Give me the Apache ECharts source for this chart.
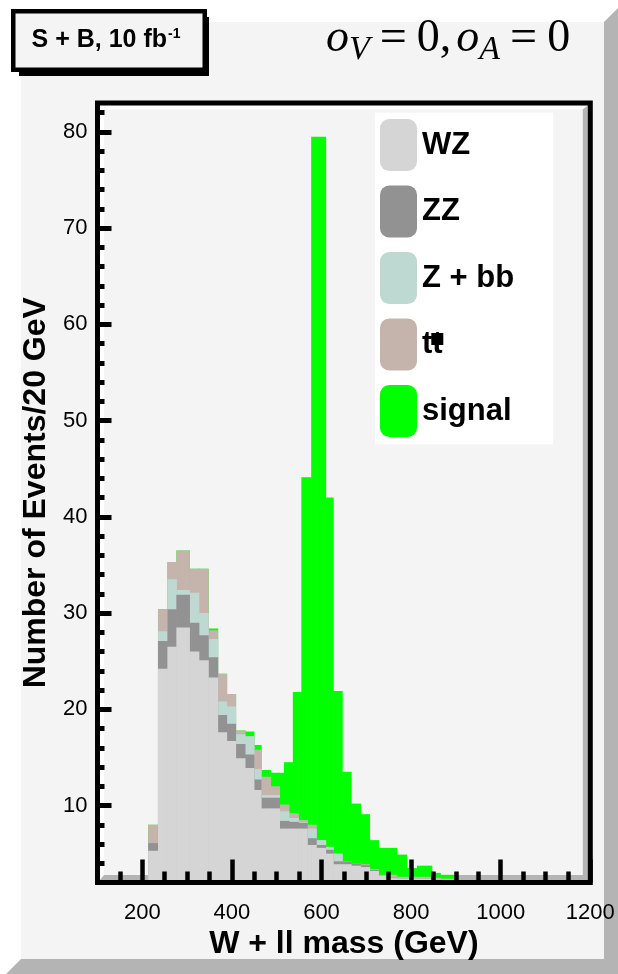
<!DOCTYPE html>
<html><head><meta charset="utf-8">
<script src="https://cdn.jsdelivr.net/npm/echarts@6/dist/echarts.min.js"></script>
<style>html,body{margin:0;padding:0;background:#f4f4f4}#chart{width:618px;height:974px}</style>
</head><body><div id="chart"></div>
<script>
// ---- data ----
const binEdges = [213, 235, 256, 276, 305, 326, 347, 368, 388, 408, 429, 449, 465, 486, 506, 516, 527, 536, 548, 555, 568, 577, 588, 609, 626, 646, 666, 687, 707, 727, 748, 768, 790, 813, 846, 865, 894];
const wzValues = [5.3, 24.2, 26.5, 28.5, 26.0, 25.1, 23.3, 17.6, 16.7, 14.9, 13.9, 11.6, 9.7, 9.7, 7.6, 7.6, 7.6, 7.6, 7.6, 7.6, 5.9, 5.9, 5.6, 5.0, 3.9, 3.9, 3.75, 3.6, 3.2, 2.7, 2.45, 2.4, 2.4, 2.4, 2.3, 2.3];
const zzValues = [0.8, 2.9, 3.9, 3.4, 3.0, 2.6, 2.1, 1.8, 1.8, 1.5, 1.4, 1.1, 1.1, 1.1, 0.8, 0.8, 0.7, 0.7, 0.6, 0.6, 0.7, 0.7, 0.3, 0.4, 0.3, 0.3, 0.25, 0.2, 0.1, 0, 0.05, 0, 0, 0, 0, 0];
const zbbValues = [0, 1.0, 3.1, 0.5, 3.1, 2.3, 1.9, 1.4, 1.8, 1.0, 1.9, 1.1, 0.3, 0.3, 1.0, 1.0, 0.4, 0.4, 0.1, 0.1, 1.0, 1.0, 0.5, 0.3, 0.8, 0, 0, 0, 0, 0, 0, 0, 0, 0, 0, 0];
const ttbarValues = [1.9, 2.3, 1.8, 4.1, 2.5, 4.6, 0.9, 2.9, 1.3, 0.4, 0, 2.0, 1.9, 0.9, 0.7, 0.7, 0.5, 0.5, 0.2, 0.2, 0.4, 0.4, 0, 0, 0, 0, 0, 0.1, 0.1, 0.1, 0.3, 0.2, 0.2, 0.2, 0.2, 0.1];
const signalValues = [0, 0, 0, 0, 0, 0, 0.2, 0, 0, 0, 0.5, 0.5, 0.7, 1.4, 3.3, 4.4, 5.3, 12.6, 13.3, 35.6, 36.1, 71.5, 73.1, 36.3, 16.9, 9.3, 6.2, 5.2, 3.0, 2.8, 2.8, 2.3, 0.9, 1.15, 0.5, 0.4];

const seriesNames = ['WZ', 'ZZ', 'Z + bb', 'tt\u0304', 'signal'];
const xMajorTicks = [200, 400, 600, 800, 1000, 1200];
const xMinorTicks = [150, 250, 300, 350, 450, 500, 550, 650, 700, 750, 850, 900, 950, 1050, 1100, 1150];
const yMajorTicks = [10, 20, 30, 40, 50, 60, 70, 80];
const yMinorTicks = [4, 6, 8, 12, 14, 16, 18, 22, 24, 26, 28, 32, 34, 36, 38, 42, 44, 46, 48, 52, 54, 56, 58, 62, 64, 66, 68, 72, 74, 76, 78, 82];

// ---- layout / style ----
const X_MIN = 100, X_MAX = 1200, Y_MIN = 2, Y_MAX = 83;
const G = { left: 97.5, top: 103, width: 492.8, height: 779.5 };
const FONT = '"Liberation Sans", Arial, Helvetica, sans-serif';
const SERIF = '"Liberation Serif", "Times New Roman", serif';
const colors = ['#d5d5d5', '#929292', '#bed8d2', '#c4b4ab', '#00ff00'];
const LEG = { left: 375, top: 112.7, padT: 6.3, padL: 5, iw: 37, ih: 52, gap: 14.5 };

const valueLists = [wzValues, zzValues, zbbValues, ttbarValues, signalValues];
const cumulative = [];
let running = wzValues.map(() => 0);
valueLists.forEach(vals => {
  running = running.map((r, i) => r + vals[i]);
  cumulative.push(running.slice());
});

function renderItem(params, api) {
  const x0 = api.value(0), x1 = api.value(1), top = api.value(2);
  if (!(top > Y_MIN)) return null;
  const p0 = api.coord([x0, top]);
  const p1 = api.coord([x1, Y_MIN]);
  return {
    type: 'rect',
    shape: { x: p0[0], y: p0[1], width: p1[0] - p0[0] + 0.6, height: p1[1] - p0[1] },
    style: { fill: api.visual('color') }
  };
}

const series = [];
for (let k = seriesNames.length - 1; k >= 0; k--) {
  series.push({
    type: 'custom',
    name: seriesNames[k],
    renderItem: renderItem,
    xAxisIndex: 0, yAxisIndex: 0,
    itemStyle: { color: colors[k] },
    encode: { x: [0, 1], y: 2 },
    data: cumulative[k].map((c, i) => [binEdges[i], binEdges[i + 1], c]),
    silent: true
  });
}

const L = G.left, T = G.top, R = G.left + G.width, B = G.top + G.height;
const fi = { l: L + 2.5, t: T + 2.5, r: R - 2.5, b: B - 2.5 }; // inner edges of frame
const bv = 5;
const legTextX = LEG.left + LEG.padL + LEG.iw + 5;
const ttTop = LEG.top + LEG.padT + 3 * (LEG.ih + LEG.gap);
const plainNumber = v => String(v);

const option = {
  backgroundColor: '#f4f4f4',
  animation: false,
  grid: { left: G.left, top: G.top, width: G.width, height: G.height, show: false },
  xAxis: [{
    type: 'value', min: X_MIN, max: X_MAX, position: 'bottom', z: 20,
    axisLine: { show: false }, splitLine: { show: false },
    axisTick: { show: true, inside: true, length: 23, customValues: xMajorTicks, lineStyle: { color: '#000', width: 4.5 } },
    axisLabel: { customValues: xMajorTicks, formatter: plainNumber, margin: 19, fontSize: 22, color: '#000', fontFamily: FONT },
    name: 'W + ll mass (GeV)', nameLocation: 'middle', nameGap: 42,
    nameTextStyle: { fontSize: 32, fontWeight: 'bold', color: '#000', fontFamily: FONT }
  }, {
    type: 'value', min: X_MIN, max: X_MAX, position: 'bottom', z: 20,
    axisLine: { show: false }, splitLine: { show: false },
    axisTick: { show: true, inside: true, length: 11, customValues: xMinorTicks, lineStyle: { color: '#000', width: 4.5 } },
    axisLabel: { show: false }
  }],
  yAxis: [{
    type: 'value', min: Y_MIN, max: Y_MAX, position: 'left', z: 20,
    axisLine: { show: false }, splitLine: { show: false },
    axisTick: { show: true, inside: true, length: 14, customValues: yMajorTicks, lineStyle: { color: '#000', width: 5 } },
    axisLabel: { customValues: yMajorTicks, formatter: plainNumber, margin: 10, fontSize: 22, color: '#000', fontFamily: FONT },
    name: 'Number of Events/20 GeV', nameLocation: 'middle', nameGap: 45,
    nameTextStyle: { fontSize: 32, fontWeight: 'bold', color: '#000', fontFamily: FONT }
  }, {
    type: 'value', min: Y_MIN, max: Y_MAX, position: 'left', z: 20,
    axisLine: { show: false }, splitLine: { show: false },
    axisTick: { show: true, inside: true, length: 7, customValues: yMinorTicks, lineStyle: { color: '#000', width: 5 } },
    axisLabel: { show: false }
  }],
  legend: {
    data: seriesNames, orient: 'vertical', left: LEG.left, top: LEG.top,
    itemWidth: LEG.iw, itemHeight: LEG.ih, itemGap: LEG.gap,
    padding: [LEG.padT, 39, 7.3, LEG.padL], backgroundColor: '#ffffff',
    icon: 'roundRect', selectedMode: false,
    formatter: name => name === 'tt\u0304' ? 'tt' : name,
    textStyle: { fontSize: 31, fontWeight: 'bold', color: '#000', fontFamily: FONT }
  },
  series: series,
  graphic: [
    // pad bevel
    { type: 'polygon', z: -20, silent: true, shape: { points: [[0, 0], [618, 0], [618, 8], [604, 22], [21, 22], [21, 959], [6, 974], [0, 974]] }, style: { fill: '#ffffff' } },
    { type: 'polygon', z: -20, silent: true, shape: { points: [[618, 8], [618, 974], [6, 974], [21, 959], [604, 959], [604, 22]] }, style: { fill: '#b4b4b4' } },
    // frame bevel
    { type: 'polygon', z: -10, silent: true, shape: { points: [[fi.l, fi.t], [fi.r, fi.t], [fi.r - bv, fi.t + 4], [fi.l + 4, fi.t + 4], [fi.l + 4, fi.b - bv], [fi.l, fi.b]] }, style: { fill: '#ffffff' } },
    { type: 'polygon', z: -10, silent: true, shape: { points: [[fi.r, fi.t], [fi.r, fi.b], [fi.l, fi.b], [fi.l + 4, fi.b - bv], [fi.r - bv, fi.b - bv], [fi.r - bv, fi.t + 4]] }, style: { fill: '#b4b4b4' } },
    // frame
    { type: 'rect', z: 50, silent: true, shape: { x: L, y: T, width: G.width, height: G.height }, style: { fill: null, stroke: '#000', lineWidth: 5 } },
    // title box
    { type: 'rect', z: 60, silent: true, shape: { x: 19, y: 17, width: 190, height: 59 }, style: { fill: '#000' } },
    { type: 'rect', z: 61, silent: true, shape: { x: 13.25, y: 11.25, width: 191.5, height: 58.5 }, style: { fill: '#f4f4f4', stroke: '#000', lineWidth: 4.5 } },
    { type: 'text', z: 62, silent: true, style: {
        x: 106, y: 40, align: 'center', verticalAlign: 'middle',
        text: '{a|S + B, 10 fb}{b|-1}',
        rich: {
          a: { fontSize: 25, fontWeight: 'bold', fontFamily: FONT, lineHeight: 30, verticalAlign: 'middle', fill: '#000' },
          b: { fontSize: 14, fontWeight: 'bold', fontFamily: FONT, lineHeight: 15, verticalAlign: 'top', fill: '#000', padding: [2, 0, 0, 1] }
        }
    } },
    // model parameters
    { type: 'text', z: 62, silent: true, style: {
        x: 326, y: 11, align: 'left', verticalAlign: 'top',
        text: '{i|o}{s|V}{e|=}{r|0,}{i|o}{s|A}{e|=}{z|0}',
        rich: {
          i: { fontSize: 46, fontStyle: 'italic', fontFamily: SERIF, lineHeight: 56, verticalAlign: 'middle', fill: '#000' },
          s: { fontSize: 34, fontStyle: 'italic', fontFamily: SERIF, lineHeight: 30, verticalAlign: 'bottom', fill: '#000' },
          e: { fontSize: 48, fontFamily: SERIF, lineHeight: 56, verticalAlign: 'middle', fill: '#000', padding: [0, 10, 0, 10] },
          r: { fontSize: 46, fontFamily: SERIF, lineHeight: 56, verticalAlign: 'middle', fill: '#000', padding: [0, 5, 0, 0] },
          z: { fontSize: 46, fontFamily: SERIF, lineHeight: 56, verticalAlign: 'middle', fill: '#000' }
        }
    } },
    // overbar glyph box on the tt legend entry
    { type: 'rect', z: 70, silent: true, shape: { x: legTextX + 9.3, y: ttTop + 14.5, width: 12, height: 12 }, style: { fill: '#000' } }
  ]
};

const chart = echarts.init(document.getElementById('chart'), null, { renderer: 'canvas' });
chart.setOption(option);
</script>
</body></html>
